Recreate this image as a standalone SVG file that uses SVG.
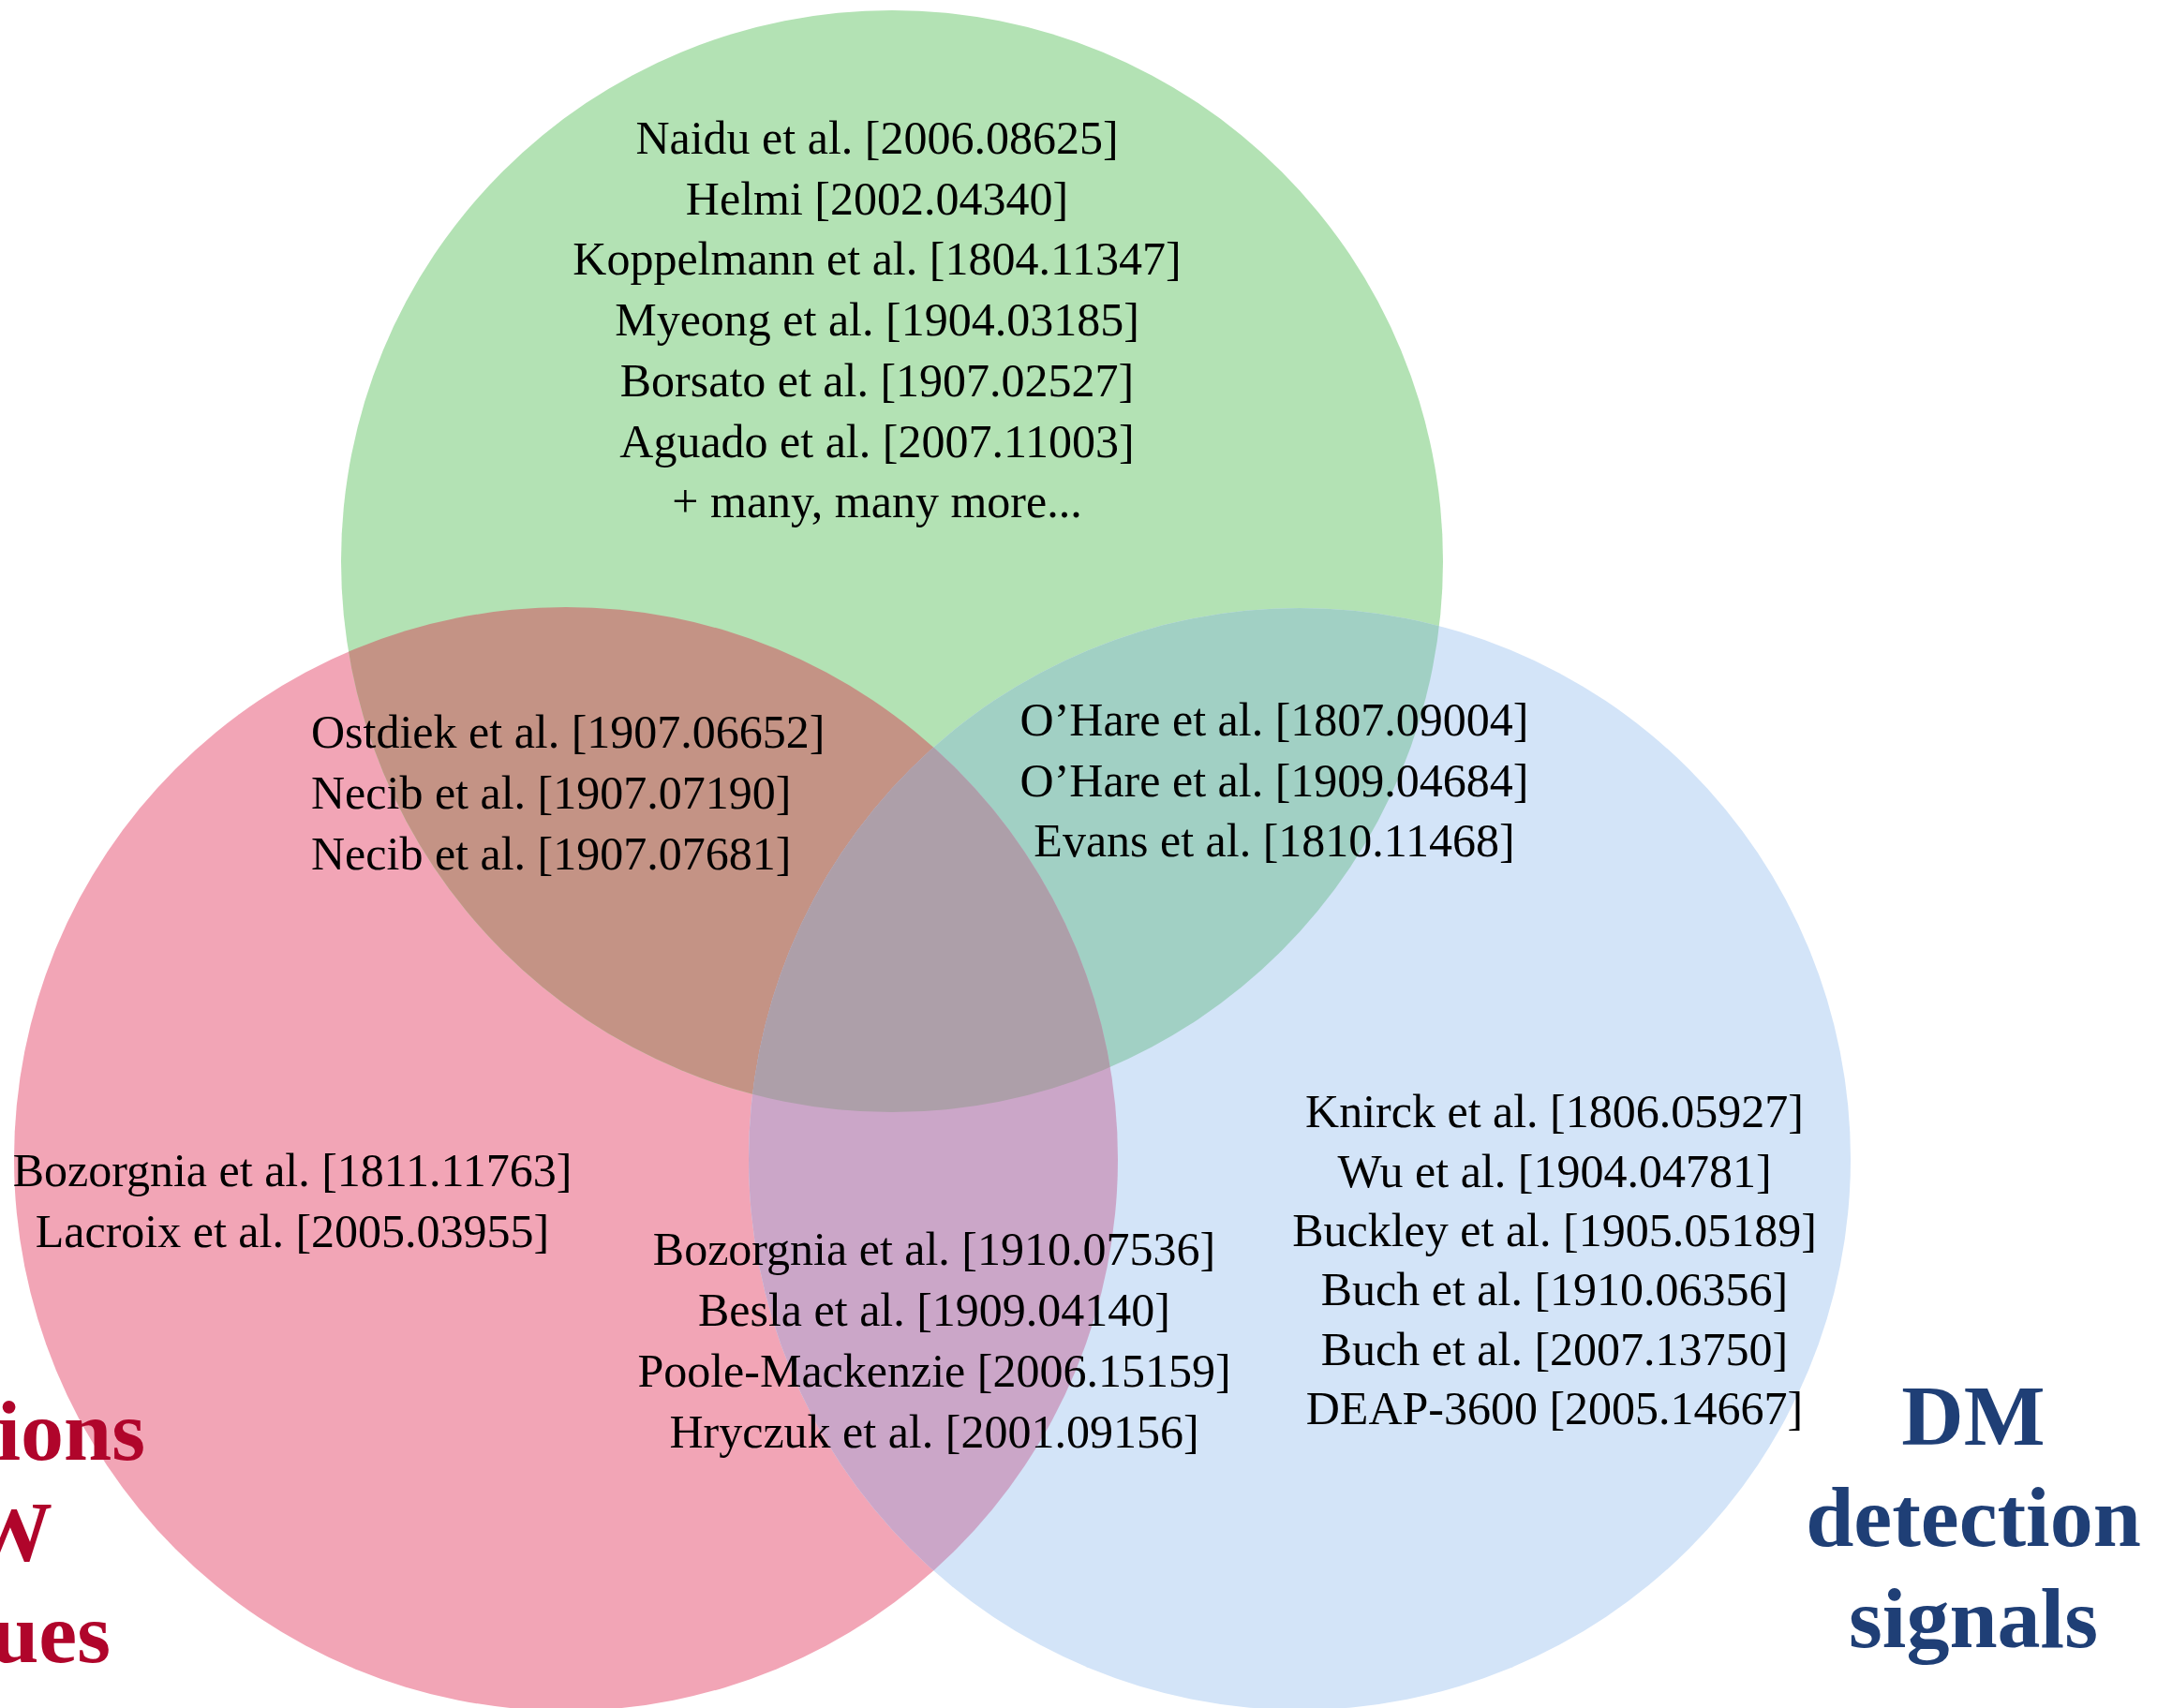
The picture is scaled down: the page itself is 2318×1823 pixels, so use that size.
<svg xmlns="http://www.w3.org/2000/svg" width="2318" height="1823" viewBox="0 0 2318 1823">
<style>
.t{font-family:"Liberation Serif","DejaVu Serif",serif;font-size:50px;fill:#000}
.c{text-anchor:middle}
.ttl{font-family:"Liberation Serif","DejaVu Serif",serif;font-size:92px;font-weight:bold}
</style>
<defs>
<clipPath id="cG"><circle cx="952" cy="599" r="588"/></clipPath>
<clipPath id="cB"><circle cx="1387" cy="1237" r="588"/></clipPath>
</defs>
<rect width="2318" height="1823" fill="#ffffff"/>
<g id="sets">
<circle id="red" cx="604" cy="1237" r="589" fill="#f2a5b6"/>
<circle id="green" cx="952" cy="599" r="588" fill="#b3e2b4"/>
<circle id="blue" cx="1387" cy="1237" r="588" fill="#d3e4f8"/>
<circle id="red-green" cx="604" cy="1237" r="589" fill="#c49385" clip-path="url(#cG)"/>
<circle id="green-blue" cx="1387" cy="1237" r="588" fill="#a1d0c4" clip-path="url(#cG)"/>
<circle id="red-blue" cx="604" cy="1237" r="589" fill="#cba6c8" clip-path="url(#cB)"/>
<g clip-path="url(#cB)"><circle id="all" cx="604" cy="1237" r="589" fill="#ad9fa9" clip-path="url(#cG)"/></g>
</g>
<g id="green-text" class="t c">
<text x="936" y="164" class="t c">Naidu et al. [2006.08625]</text>
<text x="936" y="229" class="t c">Helmi [2002.04340]</text>
<text x="936" y="293" class="t c">Koppelmann et al. [1804.11347]</text>
<text x="936" y="358" class="t c">Myeong et al. [1904.03185]</text>
<text x="936" y="423" class="t c">Borsato et al. [1907.02527]</text>
<text x="936" y="488" class="t c">Aguado et al. [2007.11003]</text>
<text x="936" y="552" class="t c">+ many, many more...</text>
</g>
<g id="red-green-text">
<text x="332" y="798" class="t">Ostdiek et al. [1907.06652]</text>
<text x="332" y="863" class="t">Necib et al. [1907.07190]</text>
<text x="332" y="928" class="t">Necib et al. [1907.07681]</text>
</g>
<g id="green-blue-text">
<text x="1360" y="785" class="t c">O’Hare et al. [1807.09004]</text>
<text x="1360" y="850" class="t c">O’Hare et al. [1909.04684]</text>
<text x="1360" y="914" class="t c">Evans et al. [1810.11468]</text>
</g>
<g id="red-text">
<text x="312" y="1266" class="t c">Bozorgnia et al. [1811.11763]</text>
<text x="312" y="1331" class="t c">Lacroix et al. [2005.03955]</text>
</g>
<g id="red-blue-text">
<text x="997" y="1350" class="t c">Bozorgnia et al. [1910.07536]</text>
<text x="997" y="1415" class="t c">Besla et al. [1909.04140]</text>
<text x="997" y="1480" class="t c">Poole-Mackenzie [2006.15159]</text>
<text x="997" y="1545" class="t c">Hryczuk et al. [2001.09156]</text>
</g>
<g id="blue-text">
<text x="1659" y="1203" class="t c">Knirck et al. [1806.05927]</text>
<text x="1659" y="1267" class="t c">Wu et al. [1904.04781]</text>
<text x="1659" y="1330" class="t c">Buckley et al. [1905.05189]</text>
<text x="1659" y="1393" class="t c">Buch et al. [1910.06356]</text>
<text x="1659" y="1457" class="t c">Buch et al. [2007.13750]</text>
<text x="1659" y="1520" class="t c">DEAP-3600 [2005.14667]</text>
</g>
<g id="title-left" class="ttl" fill="#b0052b" text-anchor="end">
<text x="155" y="1558">ions</text>
<text x="56" y="1666">W</text>
<text x="118" y="1774">ues</text>
</g>
<g id="title-right" class="ttl" fill="#1f3f76" text-anchor="middle">
<text x="2106" y="1542">DM</text>
<text x="2106" y="1650">detection</text>
<text x="2106" y="1758">signals</text>
</g>
<g id="connectors"></g>
</svg>
